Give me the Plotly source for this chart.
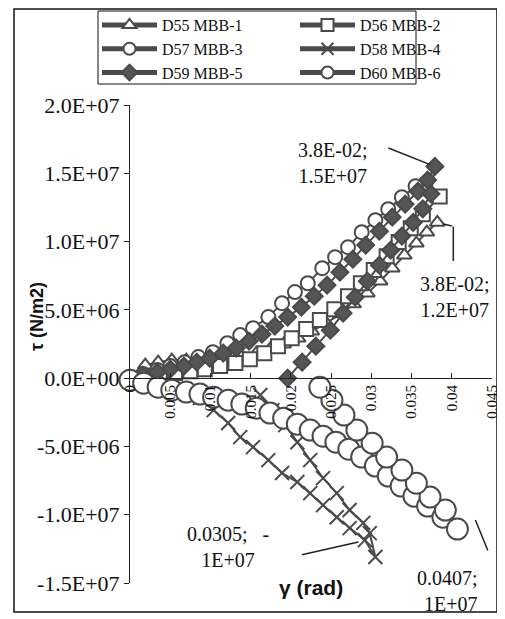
import plotly.graph_objects as go

# ---------------- data ----------------
d55_x = [0, 0.0019, 0.0035, 0.0052, 0.0070, 0.0087, 0.0104, 0.0122, 0.0139, 0.0157, 0.0174, 0.0191,
         0.0209, 0.0226, 0.0244, 0.0261, 0.0278, 0.0295, 0.0311, 0.0326, 0.0341, 0.0356, 0.0369, 0.0382]
d55_y = [0, 0.95e6, 1.17e6, 1.32e6, 1.32e6, 1.32e6, 1.39e6, 1.46e6, 1.61e6, 1.83e6, 2.12e6, 2.49e6,
         2.93e6, 3.44e6, 4.03e6, 4.69e6, 5.42e6, 6.22e6, 7.10e6, 8.05e6, 9.0e6, 9.88e6, 1.069e7, 1.14e7]

d56_x = [0, 0.0019, 0.0037, 0.0056, 0.0075, 0.0093, 0.0112, 0.0131, 0.0149, 0.0167, 0.0184, 0.0201,
         0.0219, 0.0236, 0.0254, 0.0271, 0.0287, 0.0303, 0.0319, 0.0334, 0.0349, 0.0364, 0.0385]
d56_y = [-0.15e6, 0.07e6, 0.22e6, 0.37e6, 0.51e6, 0.66e6, 0.88e6, 1.10e6, 1.39e6, 1.83e6, 2.34e6, 2.93e6,
         3.59e6, 4.25e6, 5.05e6, 6.0e6, 6.95e6, 7.91e6, 8.93e6, 9.96e6, 1.098e7, 1.20e7, 1.33e7]

d57_x = [0, 0.0016, 0.0034, 0.0050, 0.0068, 0.0085, 0.0103, 0.0121, 0.0137, 0.0153, 0.0172, 0.0189,
         0.0205, 0.0221, 0.0239, 0.0255, 0.0271, 0.0288, 0.0305, 0.0321, 0.0338, 0.0355]
d57_y = [0, 0.30e6, 0.59e6, 0.88e6, 1.17e6, 1.54e6, 1.90e6, 2.56e6, 3.15e6, 3.66e6, 4.47e6, 5.49e6,
         6.30e6, 6.95e6, 8.05e6, 8.86e6, 9.59e6, 1.069e7, 1.157e7, 1.237e7, 1.325e7, 1.405e7]

d58_x = [0.0087, 0.0104, 0.0122, 0.0137, 0.0153, 0.0172, 0.0189, 0.0208, 0.0224, 0.0240, 0.0257, 0.0273,
         0.0292, 0.0305, 0.0298, 0.0290, 0.0273, 0.0257, 0.0240, 0.0224, 0.0208, 0.0193, 0.0177, 0.0162]
d58_y = [-1.46e6, -2.34e6, -3.29e6, -4.32e6, -5.05e6, -6.0e6, -6.95e6, -7.61e6, -8.42e6, -9.30e6, -1.018e7, -1.098e7,
         -1.186e7, -1.31e7, -1.135e7, -1.06e7, -9.66e6, -8.42e6, -7.32e6, -6.0e6, -4.69e6, -3.44e6, -2.34e6, -1.24e6]

d59_x = [0, 0.0016, 0.0034, 0.0050, 0.0067, 0.0083, 0.0099, 0.0116, 0.0132, 0.0148, 0.0164, 0.0180,
         0.0196, 0.0213, 0.0229, 0.0245, 0.0261, 0.0277, 0.0293, 0.0310, 0.0326, 0.0342, 0.0358, 0.0370, 0.0379,
         0.0374, 0.0364, 0.0352, 0.0338, 0.0324, 0.0310, 0.0295, 0.0280, 0.0265, 0.0249, 0.0231, 0.0214, 0.0196]
d59_y = [0, 0.22e6, 0.44e6, 0.66e6, 0.88e6, 1.17e6, 1.46e6, 1.83e6, 2.20e6, 2.71e6, 3.22e6, 3.81e6,
         4.47e6, 5.20e6, 6.0e6, 6.81e6, 7.76e6, 8.71e6, 9.74e6, 1.076e7, 1.179e7, 1.274e7, 1.369e7, 1.45e7, 1.55e7,
         1.35e7, 1.24e7, 1.14e7, 1.04e7, 9.37e6, 8.27e6, 7.10e6, 5.93e6, 4.76e6, 3.51e6, 2.34e6, 1.17e6, 0]

d60_x = [0, 0.0017, 0.0035, 0.0052, 0.0070, 0.0087, 0.0104, 0.0122, 0.0139, 0.0157, 0.0174, 0.0191,
         0.0208, 0.0224, 0.0240, 0.0256, 0.0272, 0.0288, 0.0305, 0.0321, 0.0337, 0.0353, 0.0370, 0.0389, 0.0407,
         0.0392, 0.0373, 0.0356, 0.0338, 0.0319, 0.0301, 0.0282, 0.0266, 0.0251, 0.0236]
d60_y = [-0.15e6, -0.37e6, -0.66e6, -0.88e6, -1.02e6, -1.17e6, -1.39e6, -1.61e6, -1.90e6, -2.20e6, -2.56e6, -2.93e6,
         -3.37e6, -3.80e6, -4.25e6, -4.69e6, -5.20e6, -5.78e6, -6.44e6, -7.17e6, -7.90e6, -8.64e6, -9.37e6, -1.018e7, -1.105e7,
         -9.66e6, -8.71e6, -7.69e6, -6.73e6, -5.78e6, -4.76e6, -3.80e6, -2.70e6, -1.61e6, -0.66e6]

series_names = ["D55 MBB-1", "D56 MBB-2", "D57 MBB-3", "D58 MBB-4", "D59 MBB-5", "D60 MBB-6"]

x_tick_vals = [0, 0.005, 0.01, 0.015, 0.02, 0.025, 0.03, 0.035, 0.04, 0.045]
x_tick_text = ["0", "0.005", "0.01", "0.015", "0.02", "0.025", "0.03", "0.035", "0.04", "0.045"]
y_tick_vals = [-1.5e7, -1.0e7, -5.0e6, 0, 5.0e6, 1.0e7, 1.5e7, 2.0e7]
y_tick_text = ["-1.5E+07", "-1.0E+07", "-5.0E+06", "0.0E+00", "5.0E+06", "1.0E+07", "1.5E+07", "2.0E+07"]

# ---------------- styling ----------------
LC = "#4a4a4a"
SERIF = "Liberation Serif, Times New Roman, serif"
SANS = "Liberation Sans, Arial, sans-serif"
W, H = 505, 619
OFF = 8  # the page's body margin shifts the figure 8 px right/down
PL, PR, PT, PB = 130, 492, 105, 583  # target plot area on screen


def px(X):   # screen x -> paper fraction
    return (X - PL) / (PR - PL)


def py(Y):   # screen y -> paper fraction
    return (PB - Y) / (PB - PT)


styles = [
    dict(symbol="triangle-up", size=13, color="white"),
    dict(symbol="square", size=14, color="white"),
    dict(symbol="circle", size=14, color="white"),
    dict(symbol="x-thin", size=14, color=LC),
    dict(symbol="diamond", size=13, color="#555555"),
    dict(symbol="circle", size=21, color="white"),
]
legend_ids = ["legend", "legend2", "legend", "legend2", "legend", "legend2"]

xs = [d55_x, d56_x, d57_x, d58_x, d59_x, d60_x]
ys = [d55_y, d56_y, d57_y, d58_y, d59_y, d60_y]

fig = go.Figure()
for name, x, y, st, lg in zip(series_names, xs, ys, styles, legend_ids):
    fig.add_trace(go.Scatter(
        x=x, y=y, name=name, mode="lines+markers", legend=lg, cliponaxis=False,
        line=dict(color=LC, width=2),
        marker=dict(symbol=st["symbol"], size=st["size"], color=st["color"],
                    line=dict(color=LC, width=2)),
    ))

# ---------------- annotations ----------------
ann_font = dict(family=SERIF, size=20, color="#111")
annotations = []
# D59 peak label
annotations.append(dict(x=0.0252, y=1.574e7, xref="x", yref="y", text="3.8E-02;<br>1.5E+07",
                        showarrow=False, font=ann_font, align="center"))
annotations.append(dict(x=d59_x[24], y=d59_y[24], xref="x", yref="y", text="", showarrow=True,
                        arrowhead=0, arrowwidth=1.5, arrowcolor="#222", ax=-48, ay=-19, standoff=5))
# D55 end label
annotations.append(dict(x=0.0403, y=5.93e6, xref="x", yref="y", text="3.8E-02;<br>1.2E+07",
                        showarrow=False, font=ann_font, align="center"))
annotations.append(dict(x=d55_x[-1], y=d55_y[-1], xref="x", yref="y", text="", showarrow=True,
                        arrowhead=0, arrowwidth=1.5, arrowcolor="#222", ax=16, ay=4, standoff=6))
annotations.append(dict(x=d55_x[-1], y=d55_y[-1], xref="x", yref="y", text="", showarrow=True,
                        arrowhead=0, arrowwidth=1.5, arrowcolor="#222", ax=0, ay=36,
                        xshift=16, yshift=-4, standoff=0))
# D58 end label
annotations.append(dict(x=0.0122, y=-1.237e7, xref="x", yref="y", text="0.0305;   -<br>1E+07",
                        showarrow=False, font=ann_font, align="center"))
annotations.append(dict(x=d58_x[13], y=d58_y[13], xref="x", yref="y", text="", showarrow=True,
                        arrowhead=0, arrowwidth=1.5, arrowcolor="#222", ax=-58, ay=13,
                        xshift=-17, yshift=15, standoff=0))
# D60 end label
annotations.append(dict(x=px(480), y=py(591), xref="paper", yref="paper", text="0.0407;<br>1E+07",
                        showarrow=False, font=ann_font, align="right", xanchor="right", yanchor="middle"))
annotations.append(dict(x=d60_x[24], y=d60_y[24], xref="x", yref="y", text="", showarrow=True,
                        arrowhead=0, arrowwidth=1.5, arrowcolor="#222", ax=13, ay=32,
                        xshift=18, yshift=9, standoff=0))
# axis titles
annotations.append(dict(x=px(37), y=py(317), xref="paper", yref="paper", text="<b>τ (N/m2)</b>",
                        textangle=-90, showarrow=False, xanchor="center", yanchor="middle",
                        font=dict(family=SANS, size=18, color="#111")))
annotations.append(dict(x=px(311), y=py(587), xref="paper", yref="paper", text="<b>γ (rad)</b>",
                        showarrow=False, xanchor="center", yanchor="middle",
                        font=dict(family=SANS, size=21, color="#111")))

leg_common = dict(orientation="v", y=py(OFF), yanchor="top", xanchor="left",
                  borderwidth=0, bgcolor="rgba(0,0,0,0)", itemwidth=55, itemsizing="constant",
                  font=dict(family=SERIF, size=16, color="#111"), tracegroupgap=0)

fig.update_layout(
    width=W, height=H,
    margin=dict(l=PL - OFF, r=W - (PR - OFF), t=PT - OFF, b=H - (PB - OFF), autoexpand=False),
    paper_bgcolor="white", plot_bgcolor="white",
    font=dict(family=SERIF, color="#111"),
    annotations=annotations,
    showlegend=True,
    legend=dict(x=px(97), **leg_common),
    legend2=dict(x=px(295), **leg_common),
    shapes=[
        dict(type="rect", xref="paper", yref="paper", x0=px(14), x1=px(497),
             y0=py(612), y1=py(9), line=dict(color="#111", width=1.5)),
        dict(type="rect", xref="paper", yref="paper", x0=px(98), x1=px(416),
             y0=py(84), y1=py(11), line=dict(color="#111", width=1)),
    ],
)

fig.update_xaxes(range=[0, 0.045], anchor="free", position=py(378.1),
                 showline=True, linecolor="#222", linewidth=1,
                 ticks="inside", ticklen=5, tickcolor="#222",
                 tickvals=x_tick_vals, ticktext=x_tick_text, tickangle=-90,
                 tickfont=dict(family=SERIF, size=15, color="#111"),
                 showgrid=False, zeroline=False)
fig.update_yaxes(range=[-1.5e7, 2.0e7],
                 showline=True, linecolor="#222", linewidth=1,
                 ticks="outside", ticklen=5, tickcolor="#222",
                 tickvals=y_tick_vals, ticktext=y_tick_text,
                 tickfont=dict(family=SERIF, size=22, color="#111"),
                 showgrid=False, zeroline=False)

fig.write_html("out.html")
